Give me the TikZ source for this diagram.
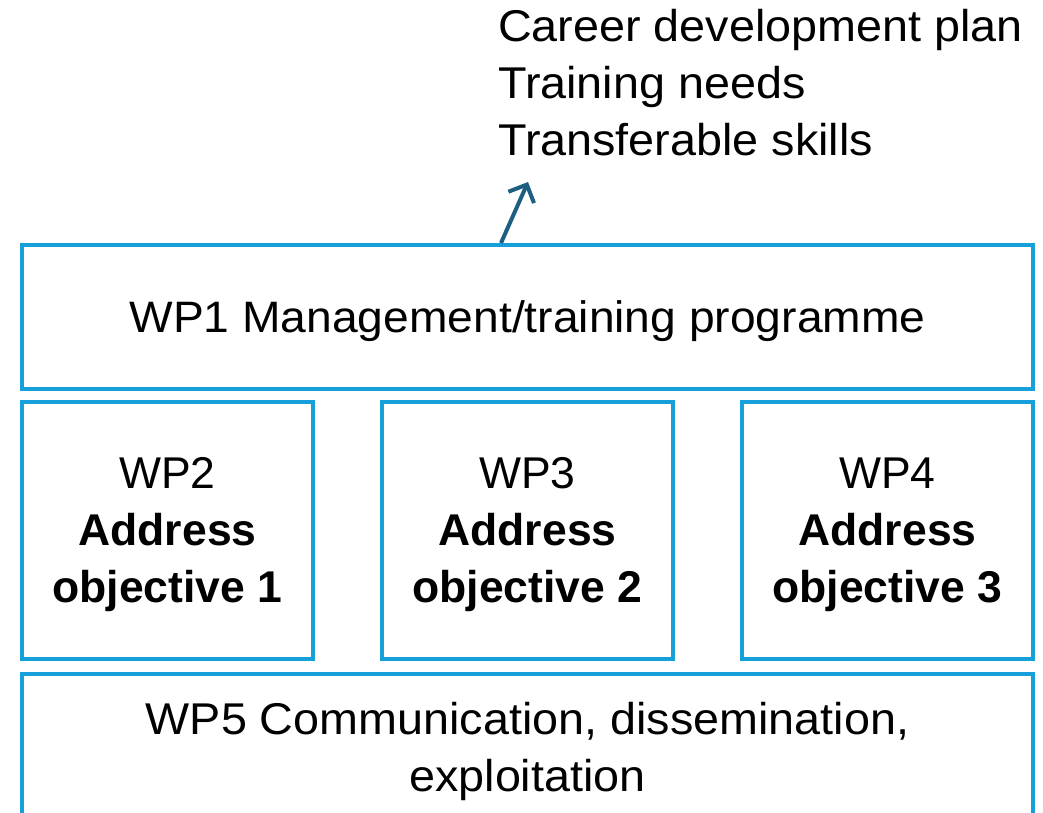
\documentclass[tikz,border=0pt]{standalone}
\usepackage{fontspec}
\setmainfont{Liberation Sans}
\newfontfamily\aptos[FakeStretch=1.05]{Liberation Sans}
\usetikzlibrary{arrows.meta}
\definecolor{boxblue}{HTML}{15A0DA}
\definecolor{arrowteal}{HTML}{1D5F80}
\newcommand{\lowered}[1]{\raisebox{-4pt}[\height][\depth]{#1}}
\newcommand{\wptext}[2]{\lowered{\begin{tabular}{@{}c@{}}#1\\\textbf{Address}\\\textbf{objective #2}\end{tabular}}}
\tikzset{
  wpbox/.style={draw=boxblue, line width=4pt, rectangle, inner sep=0pt, align=center},
  aptostext/.style={font=\aptos\fontsize{44.5}{57}\selectfont},
  armtext/.style={font=\fontsize{44.5}{57}\selectfont},
  outarrow/.style={draw=arrowteal, line width=4pt, -{Straight Barb[length=14pt,width=28pt,line width=4pt]}}
}
\begin{document}
\begin{tikzpicture}[x=1pt,y=-1pt]
\useasboundingbox (0,0) rectangle (1043,812);
\clip (0,0) rectangle (1043,812);
% top text
\node[aptostext, anchor=base west, align=left, inner sep=0pt] (outputs) at (498,155)
  {Career development plan\\Training needs\\Transferable skills};
% WP1
\node[wpbox, minimum width=1011pt, minimum height=144pt, font=\aptos\fontsize{44}{57}\selectfont] (wp1) at (527.5,317)
  {\lowered{WP1 Management/training programme}};
% WP2-4
\node[wpbox, armtext, minimum width=291pt, minimum height=257pt] (wp2) at (167.5,530.5) {\wptext{WP2}{1}};
\node[wpbox, armtext, minimum width=291pt, minimum height=257pt] (wp3) at (527.5,530.5) {\wptext{WP3}{2}};
\node[wpbox, armtext, minimum width=291pt, minimum height=257pt] (wp4) at (887.5,530.5) {\wptext{WP4}{3}};
% WP5
\node[wpbox, aptostext, anchor=north, minimum width=1011pt, inner ysep=28pt] (wp5) at (527.5,672)
  {WP5 Communication, dissemination,\\exploitation};
% arrow
\coordinate (arrtip) at (528,182);
\draw[outarrow] ([xshift=-26.5pt]wp1.north) -- (arrtip);
\end{tikzpicture}
\end{document}
